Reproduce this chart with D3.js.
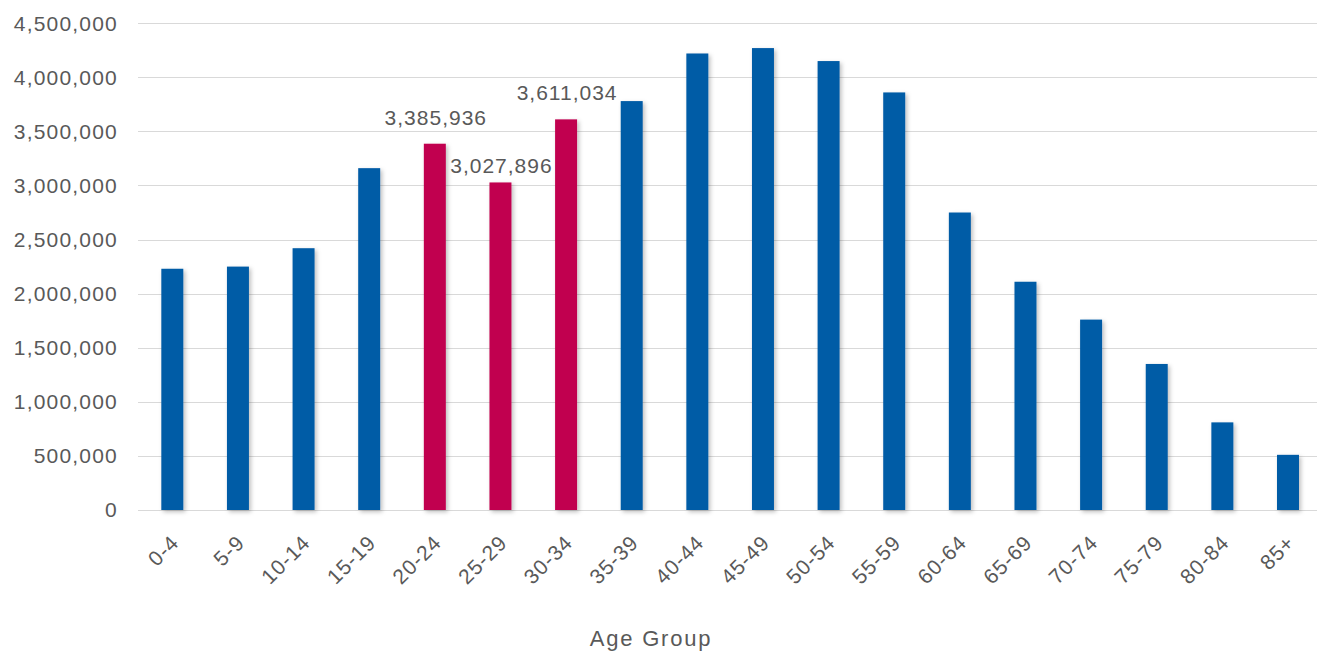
<!DOCTYPE html>
<html lang="en">
<head>
    <meta charset="UTF-8">
    <title>Population by Age Group</title>
    <script src="https://d3js.org/d3.v7.min.js"></script>
    <style>
        body { margin: 0; background: #fff; }
        svg text { font-family: "Liberation Sans", Arial, sans-serif; fill: #595959; }
    </style>
</head>
<body>
    <svg id="chart" width="1317" height="652"></svg>
    <script>
        // data
        const ageGroups = ["0-4", "5-9", "10-14", "15-19", "20-24", "25-29", "30-34", "35-39", "40-44",
            "45-49", "50-54", "55-59", "60-64", "65-69", "70-74", "75-79", "80-84", "85+"];
        const population = [2230000, 2250000, 2420000, 3160000, 3385936, 3027896, 3611034, 3780000, 4220000,
            4270000, 4150000, 3860000, 2750000, 2110000, 1760000, 1350000, 810000, 510000];
        const highlighted = ["20-24", "25-29", "30-34"];
        const yTicks = [0, 500000, 1000000, 1500000, 2000000, 2500000, 3000000, 3500000, 4000000, 4500000];
        const xTitle = "Age Group";

        const blue = "#045ba6", red = "#c1004f";
        const fmt = d3.format(",");

        const svg = d3.select("#chart");
        const defs = svg.append("defs");
        defs.append("filter").attr("id", "shadow")
            .attr("x", "-30%").attr("y", "-5%").attr("width", "170%").attr("height", "115%")
            .append("feDropShadow")
            .attr("dx", 2).attr("dy", 2).attr("stdDeviation", 2)
            .attr("flood-color", "#000").attr("flood-opacity", 0.25);

        const x = d3.scaleBand()
            .domain(ageGroups)
            .range([139.5, 1320.8])
            .paddingInner(0.665)
            .paddingOuter(0.3325);

        const y = d3.scaleLinear()
            .domain([0, 4500000])
            .range([510, 23.2]);

        // gridlines
        svg.append("g").selectAll("line")
            .data(yTicks)
            .join("line")
            .attr("x1", 138).attr("x2", 1317)
            .attr("y1", d => Math.round(y(d)) + 0.5)
            .attr("y2", d => Math.round(y(d)) + 0.5)
            .attr("stroke", "#d9d9d9")
            .attr("stroke-width", 1);

        // y labels
        svg.append("g").selectAll("text")
            .data(yTicks)
            .join("text")
            .attr("x", 118)
            .attr("y", d => y(d))
            .attr("dy", "0.35em")
            .attr("text-anchor", "end")
            .style("font-size", "21px")
            .style("letter-spacing", "1.2px")
            .text(d => fmt(d));

        // value labels on the highlighted bars
        const rows = ageGroups.map((g, i) => ({ group: g, value: population[i] }));

        // bars
        svg.append("g").selectAll("rect")
            .data(rows)
            .join("rect")
            .attr("x", d => x(d.group))
            .attr("y", d => y(d.value))
            .attr("width", x.bandwidth())
            .attr("height", d => y(0) - y(d.value))
            .attr("fill", d => highlighted.includes(d.group) ? red : blue)
            .attr("filter", "url(#shadow)");

        svg.append("g").selectAll("text")
            .data(rows.filter(d => highlighted.includes(d.group)))
            .join("text")
            .attr("x", d => x(d.group) + x.bandwidth() / 2 + 1)
            .attr("y", (d, i) => y(d.value) - (i == 1 ? 9 : 19))
            .attr("text-anchor", "middle")
            .style("font-size", "21px")
            .style("letter-spacing", "1px")
            .text(d => fmt(d.value));

        // x labels
        svg.append("g").selectAll("text")
            .data(ageGroups)
            .join("text")
            .attr("transform", d => "translate(" + (x(d) + x.bandwidth() / 2 + 8) + ",544) rotate(-45)")
            .attr("text-anchor", "end")
            .style("font-size", "21px")
            .style("letter-spacing", "1px")
            .text(d => d);

        svg.append("text")
            .attr("x", 651)
            .attr("y", 646)
            .attr("text-anchor", "middle")
            .style("font-size", "22px")
            .style("letter-spacing", "1.8px")
            .text(xTitle);
    </script>
</body>
</html>
